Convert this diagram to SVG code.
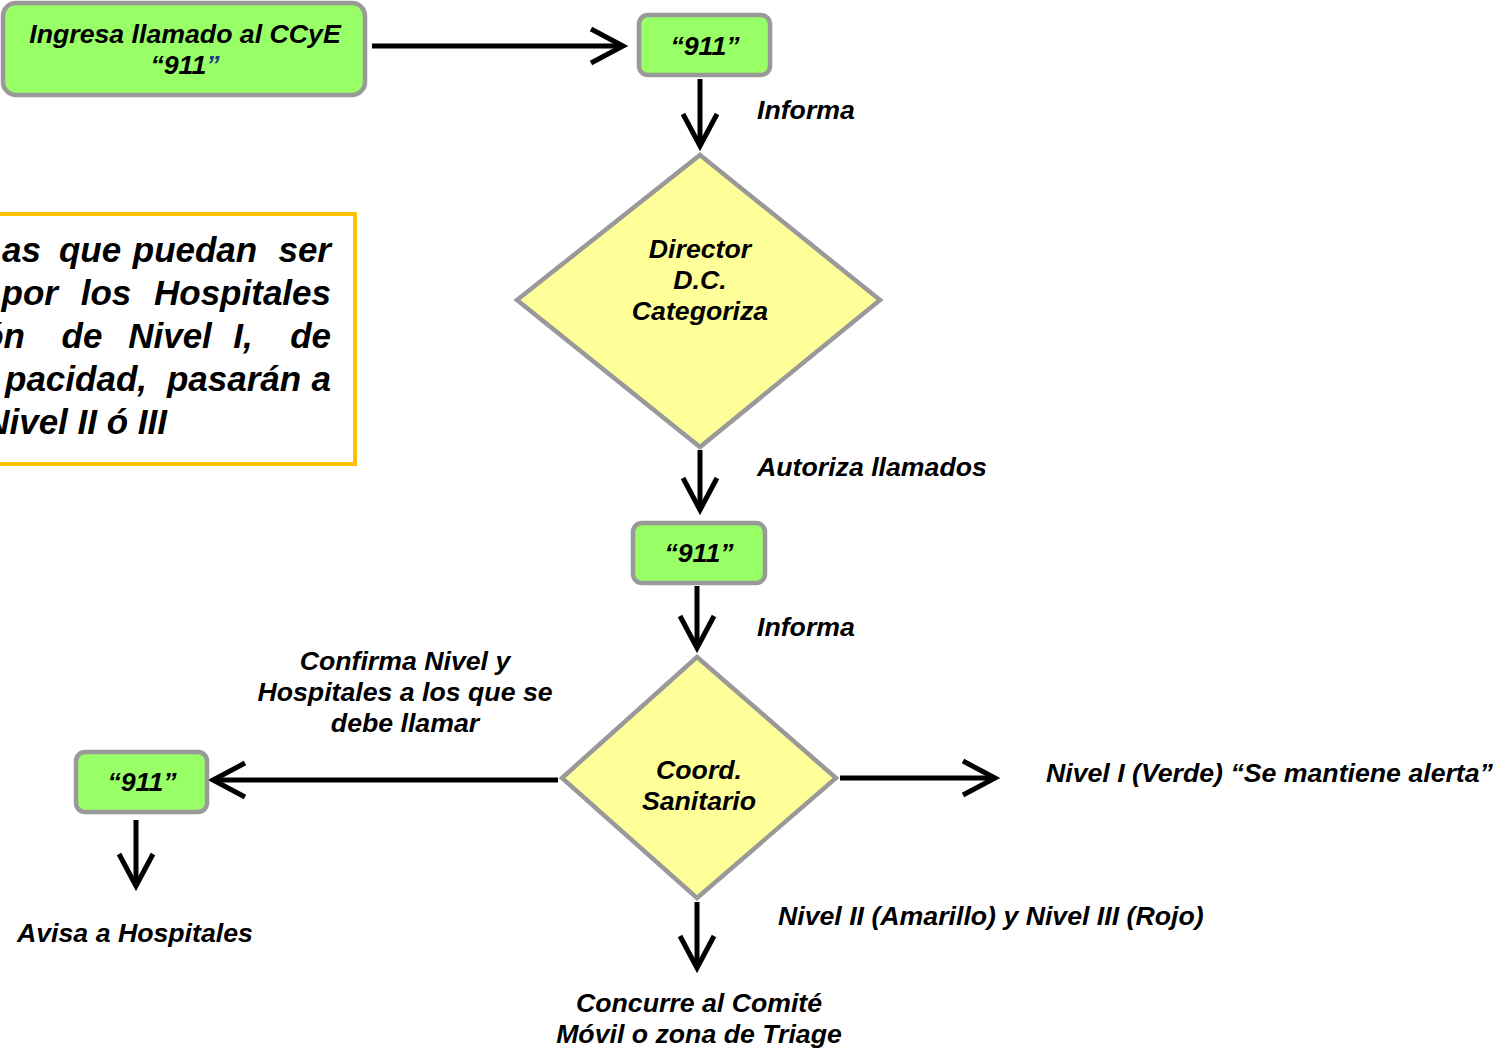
<svg xmlns="http://www.w3.org/2000/svg" width="1500" height="1052" viewBox="0 0 1500 1052">
<defs>
<style>
.t{font-family:"Liberation Sans",Arial,sans-serif;font-weight:bold;font-style:italic;font-size:26.7px;fill:#000}
.c{text-anchor:middle}
.box{fill:#99ff66;stroke:#999999;stroke-width:4.5}
.dia{fill:#ffff99;stroke:#999999;stroke-width:4.5}
.ln{stroke:#000;stroke-width:5;fill:none}
.note{font-family:"Liberation Sans",Arial,sans-serif;font-weight:bold;font-style:italic;font-size:35px;fill:#000}
.e{text-anchor:end}
.m{text-anchor:middle}
</style>
<marker id="ah" markerUnits="userSpaceOnUse" markerWidth="44" markerHeight="44" viewBox="0 0 44 44" refX="36" refY="22" orient="auto" overflow="visible">
<path d="M4,5 L36,22 L4,39" fill="none" stroke="#000" stroke-width="5"/>
</marker>
</defs>
<rect width="1500" height="1052" fill="#fff"/>

<g id="connectors">
<line class="ln" x1="372" y1="46" x2="623" y2="46" marker-end="url(#ah)"/>
<line class="ln" x1="700" y1="79" x2="700" y2="146" marker-end="url(#ah)"/>
<line class="ln" x1="700" y1="450" x2="700" y2="510" marker-end="url(#ah)"/>
<line class="ln" x1="697" y1="586" x2="697" y2="648" marker-end="url(#ah)"/>
<line class="ln" x1="558" y1="780" x2="213" y2="780" marker-end="url(#ah)"/>
<line class="ln" x1="840" y1="778" x2="995" y2="778" marker-end="url(#ah)"/>
<line class="ln" x1="697" y1="902" x2="697" y2="968" marker-end="url(#ah)"/>
<line class="ln" x1="136" y1="820" x2="136" y2="886" marker-end="url(#ah)"/>
</g>

<g id="labels">
<text class="t" x="757" y="119">Informa</text>
<text class="t" x="757" y="476">Autoriza llamados</text>
<text class="t" x="757" y="636">Informa</text>
<text class="t c" x="405" y="670">Confirma Nivel y</text>
<text class="t c" x="405" y="701">Hospitales a los que se</text>
<text class="t c" x="405" y="732">debe llamar</text>
<text class="t" x="1046" y="782">Nivel I (Verde) “Se mantiene alerta”</text>
<text class="t" x="778" y="925">Nivel II (Amarillo) y Nivel III (Rojo)</text>
<text class="t c" x="699" y="1012">Concurre al Comité</text>
<text class="t c" x="699" y="1043">Móvil o zona de Triage</text>
<text class="t" x="17" y="942">Avisa a Hospitales</text>
</g>

<g id="node-ingresa">
<rect class="box" x="3" y="3" width="362" height="92" rx="13"/>
<text class="t c" x="185" y="43">Ingresa llamado al CCyE</text>
<text class="t c" x="185" y="74">“911<tspan fill="#1f3c88">”</tspan></text>
</g>

<g id="node-911a">
<rect class="box" x="639" y="15" width="131" height="60" rx="9"/>
<text class="t c" x="705" y="55">“911”</text>
</g>

<g id="node-director">
<polygon class="dia" points="700,155 880,300 700,447 517,300"/>
<text class="t c" x="700" y="258">Director</text>
<text class="t c" x="700" y="289">D.C.</text>
<text class="t c" x="700" y="320">Categoriza</text>
</g>

<g id="node-note">
<rect x="-10" y="214" width="365" height="250" fill="#fff" stroke="#ffc000" stroke-width="4"/>
<text class="note" y="262"><tspan class="e" x="41">as</tspan><tspan class="m" x="90">que</tspan><tspan class="m" x="195">puedan</tspan><tspan class="e" x="331">ser</tspan></text>
<text class="note" y="305"><tspan class="e" x="58">por</tspan><tspan class="m" x="106">los</tspan><tspan class="e" x="331">Hospitales</tspan></text>
<text class="note" y="348"><tspan class="e" x="25">ón</tspan><tspan class="m" x="82">de</tspan><tspan class="m" x="170">Nivel</tspan><tspan class="m" x="243">I,</tspan><tspan class="e" x="331">de</tspan></text>
<text class="note" y="391"><tspan class="e" x="147">pacidad,</tspan><tspan class="m" x="234">pasarán</tspan><tspan class="e" x="331">a</tspan></text>
<text class="note e" x="167" y="434">Nivel II ó III</text>
</g>

<g id="node-911b">
<rect class="box" x="633" y="523" width="132" height="60" rx="9"/>
<text class="t c" x="699" y="562">“911”</text>
</g>

<g id="node-coord">
<polygon class="dia" points="697,657 836,778 697,898 562,778"/>
<text class="t c" x="699" y="779">Coord.</text>
<text class="t c" x="699" y="810">Sanitario</text>
</g>

<g id="node-911c">
<rect class="box" x="76" y="752" width="131" height="60" rx="9"/>
<text class="t c" x="142" y="791">“911”</text>
</g>
</svg>
